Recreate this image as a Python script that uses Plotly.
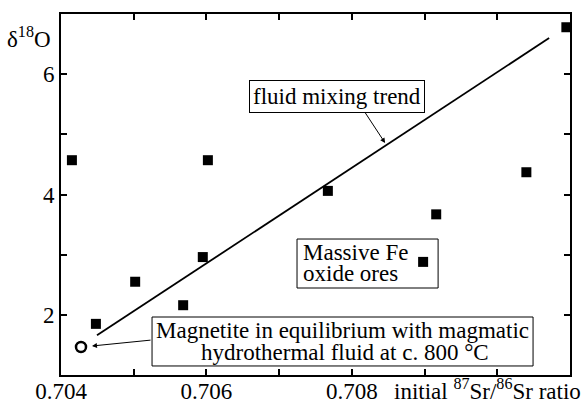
import plotly.graph_objects as go

# Massive Fe oxide ores (initial 87Sr/86Sr, delta18O)
ore_sr = [0.70415, 0.70602, 0.71095, 0.70448, 0.70502, 0.70568, 0.70595, 0.70767, 0.70916, 0.70898, 0.71040]
ore_d18o = [4.57, 4.57, 6.78, 1.85, 2.55, 2.16, 2.96, 4.06, 3.67, 2.88, 4.37]

# Magnetite in equilibrium with magmatic fluid
mag_sr = [0.704275]
mag_d18o = [1.465]

# Fluid mixing trend line end points
trend_sr = [0.704495, 0.710713]
trend_d18o = [1.66, 6.60]

x_tickvals = [0.704, 0.706, 0.708]
x_ticktext = ["0.704", "0.706", "0.708"]
x_minor = [0.705, 0.707, 0.709, 0.710]
y_tickvals = [2, 4, 6]
y_ticktext = ["2", "4", "6"]
y_minor = [3, 5]

FONT = "Liberation Serif"
FS = 23

fig = go.Figure()
fig.add_trace(go.Scatter(x=trend_sr, y=trend_d18o, mode="lines",
                         line=dict(color="black", width=1.8), showlegend=False))
fig.add_trace(go.Scatter(x=ore_sr, y=ore_d18o, mode="markers",
                         marker=dict(symbol="square", size=10, color="black"),
                         showlegend=False))
fig.add_trace(go.Scatter(x=mag_sr, y=mag_d18o, mode="markers",
                         marker=dict(symbol="circle", size=10, color="white",
                                     line=dict(color="black", width=2.5)),
                         showlegend=False))

axis_common = dict(showline=True, linecolor="black", linewidth=2, mirror="allticks",
                   ticks="inside", ticklen=6, tickwidth=2, tickcolor="black",
                   showgrid=False, zeroline=False, automargin=False,
                   tickfont=dict(family=FONT, size=FS, color="black"))

fig.update_xaxes(range=[0.704, 0.711], tickmode="array", tickvals=x_tickvals, ticktext=x_ticktext,
                 ticklabelstandoff=-6,
                 minor=dict(tickmode="array", tickvals=x_minor, ticks="inside", ticklen=6,
                            tickwidth=2, tickcolor="black", showgrid=False),
                 **axis_common)
fig.update_yaxes(range=[1, 7], tickmode="array", tickvals=y_tickvals, ticktext=y_ticktext,
                 minor=dict(tickmode="array", tickvals=y_minor, ticks="inside", ticklen=6,
                            tickwidth=2, tickcolor="black", showgrid=False),
                 **axis_common)

tf = dict(family=FONT, size=FS, color="black")

shapes = [
    # Massive Fe box
    dict(type="rect", xref="x", yref="y", x0=0.707246, x1=0.709186, y0=2.446, y1=3.260,
         line=dict(color="black", width=1), fillcolor="rgba(0,0,0,0)", layer="below"),
    # Magnetite box
    dict(type="rect", xref="x", yref="y", x0=0.705252, x1=0.710492, y0=1.150, y1=1.964,
         line=dict(color="black", width=1), fillcolor="rgba(0,0,0,0)", layer="below"),
]

annotations = [
    dict(x=0.707796, y=5.637, xref="x", yref="y", text="fluid mixing trend", showarrow=False,
         font=tf, bordercolor="black", borderwidth=1, borderpad=3, bgcolor="white"),
    dict(x=0.708457, y=4.856, ax=0.708168, ay=5.388, xref="x", yref="y", axref="x", ayref="y",
         text="", showarrow=True, arrowhead=2, arrowsize=1, arrowwidth=1, arrowcolor="black"),
    dict(x=0.707301, y=3.044, xref="x", yref="y", text="Massive Fe", showarrow=False,
         xanchor="left", yanchor="middle", font=tf),
    dict(x=0.707301, y=2.679, xref="x", yref="y", text="oxide ores", showarrow=False,
         xanchor="left", yanchor="middle", font=tf),
    dict(x=0.707872, y=1.748, xref="x", yref="y", text="Magnetite in equilibrium with magmatic",
         showarrow=False, xanchor="center", yanchor="middle", font=tf),
    dict(x=0.707900, y=1.382, xref="x", yref="y", text="hydrothermal fluid at c. 800 °C",
         showarrow=False, xanchor="center", yanchor="middle", font=tf),
    dict(x=0.704426, y=1.482, ax=0.705252, ay=1.582, xref="x", yref="y", axref="x", ayref="y",
         text="", showarrow=True, arrowhead=2, arrowsize=1, arrowwidth=1, arrowcolor="black"),
    # axis labels
    dict(x=-0.0157, y=0.935, xref="paper", yref="paper", text="δ<sup>18</sup>O",
         showarrow=False, xanchor="right", yanchor="middle", font=tf),
    dict(x=1.0255, y=-0.039, xref="paper", yref="paper",
         text="initial <sup>87</sup>Sr/<sup>86</sup>Sr ratio",
         showarrow=False, xanchor="right", yanchor="middle", font=tf),
]

fig.update_layout(width=587, height=403, margin=dict(l=61, r=17, t=14, b=28),
                  paper_bgcolor="white", plot_bgcolor="white",
                  shapes=shapes, annotations=annotations, showlegend=False)

fig.write_html("out.html", config={"displayModeBar": False},
               post_script="document.body.style.margin='0';document.body.style.overflow='hidden';")
